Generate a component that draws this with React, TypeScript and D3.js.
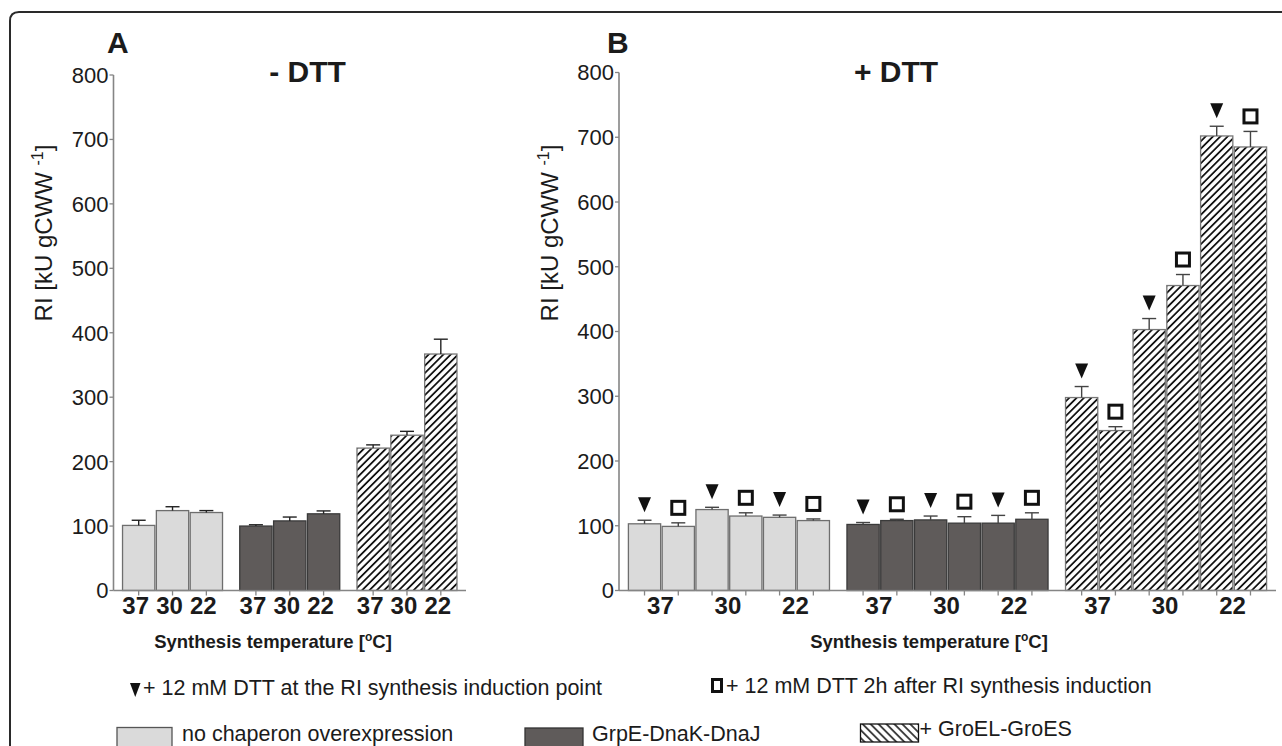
import React from 'react';
import * as d3 from 'd3';

// ---- DATA ----
const temps = ['37', '30', '22'];
const dttMarkers = ['tri', 'sq']; // + DTT at induction point, + DTT 2h after induction
const yTicks = [0, 100, 200, 300, 400, 500, 600, 700, 800];

// panel A: - DTT (one bar per temperature)
const noChapA = [101, 124, 121];
const noChapAErr = [8, 6, 3];
const grpeA = [100, 108, 119];
const grpeAErr = [2, 6, 4.5];
const groelA = [221, 241, 367];
const groelAErr = [5, 6, 23];

// panel B: + DTT (per temperature: at induction, 2h after)
const noChapB = [103, 99, 125, 115, 113, 108];
const noChapBErr = [5.5, 5.5, 3.5, 5, 3.5, 2.5];
const grpeB = [102, 108, 109, 104, 104, 110];
const grpeBErr = [3, 2, 6, 10, 12, 10];
const groelB = [298, 247, 403, 471, 702, 685];
const groelBErr = [17, 6, 17, 17, 15, 24];

// ---- STYLE ----
const FONT = 'Liberation Sans, Arial, Helvetica, sans-serif';
const INK = '#1b1b1b';
const AXIS = '#858585';
const styles = [
  { fill: '#dadada', stroke: '#6e6e6e' },
  { fill: '#5f5b5a', stroke: '#3a3a3a' },
  { fill: 'url(#hatchBar)', stroke: '#777' },
];

type PanelProps = {
  x0: number; x1: number; yTop: number; yBottom: number;
  values: number[][]; errs: number[][];
  padIn: number; padOut: number;
  labelSpan: number; labelDx: number;
  markers: boolean; errColor: string;
  letter: string; letterX: number; title: string; titleX: number; xTitleX: number;
};

function Panel(p: PanelProps) {
  const y = d3.scaleLinear().domain([0, 800]).range([p.yBottom, p.yTop]);
  const nPer = p.values[0].length;
  const gx = d3.scaleBand<number>().domain(d3.range(p.values.length)).range([p.x0, p.x1])
    .paddingInner(p.padIn).paddingOuter(p.padOut);
  const bx = d3.scaleBand<number>().domain(d3.range(nPer)).range([0, gx.bandwidth()]).paddingInner(0.045);
  const bw = bx.bandwidth();
  const cap = 7;

  const bars: any[] = [];
  const ticks: number[] = [];
  const labels: any[] = [];
  p.values.forEach((vals, g) => {
    vals.forEach((v, i) => {
      const left = (gx(g) as number) + (bx(i) as number);
      const cx = left + bw / 2;
      const top = y(v + p.errs[g][i]);
      ticks.push(cx);
      bars.push(
        <g key={`b${g}-${i}`}>
          <rect x={left} y={y(v)} width={bw} height={y(0) - y(v)} fill={styles[g].fill}
            stroke={styles[g].stroke} strokeWidth={1.3} />
          <line x1={cx} x2={cx} y1={y(v)} y2={top} stroke={p.errColor} strokeWidth={1.4} />
          <line x1={cx - cap} x2={cx + cap} y1={top} y2={top} stroke={p.errColor} strokeWidth={1.4} />
          {p.markers && dttMarkers[i % 2] === 'tri' && (
            <path d={`M${cx - 6.5},${top - 23} L${cx + 6.5},${top - 23} L${cx},${top - 8} Z`} fill="#111" />
          )}
          {p.markers && dttMarkers[i % 2] === 'sq' && (
            <rect x={cx - 6.5} y={top - 21.5} width={13} height={13} fill="#fff" stroke="#111" strokeWidth={3} />
          )}
        </g>
      );
    });
    for (let k = 0; k < nPer / p.labelSpan; k++) {
      const a = (gx(g) as number) + (bx(k * p.labelSpan) as number);
      const b = (gx(g) as number) + (bx(k * p.labelSpan + p.labelSpan - 1) as number) + bw;
      labels.push(
        <text key={`l${g}-${k}`} x={(a + b) / 2 + p.labelDx} y={614} textAnchor="middle"
          fontSize={24} fontWeight="bold" fill={INK}>{temps[k]}</text>
      );
    }
  });

  return (
    <g fontFamily={FONT}>
      <text x={p.letterX} y={53} fontSize={30} fontWeight="bold" fill={INK}>{p.letter}</text>
      <text x={p.titleX} y={82} fontSize={30} fontWeight="bold" fill={INK} textAnchor="middle">{p.title}</text>
      {bars}
      {/* axes */}
      <line x1={p.x0} x2={p.x0} y1={p.yTop} y2={p.yBottom} stroke={AXIS} strokeWidth={1.6} />
      <line x1={p.x0} x2={p.x1} y1={p.yBottom} y2={p.yBottom} stroke={AXIS} strokeWidth={1.6} />
      {yTicks.map(t => (
        <g key={t}>
          <line x1={p.x0 - 4} x2={p.x0} y1={y(t)} y2={y(t)} stroke={AXIS} strokeWidth={1.3} />
          <text x={p.x0 - 5} y={y(t)} dy="0.36em" textAnchor="end" fontSize={22} fill={INK}>{t}</text>
        </g>
      ))}
      {ticks.map((cx, i) => (
        <line key={i} x1={cx} x2={cx} y1={p.yBottom} y2={p.yBottom + 5} stroke={AXIS} strokeWidth={1.3} />
      ))}
      {labels}
      <text transform={`translate(${p.x0 - 61.5},233) rotate(-90)`} textAnchor="middle" fontSize={24} fill={INK}>
        RI [kU gCWW{' '}<tspan fontSize={16} dy={-9}>-1</tspan><tspan dy={9}>]</tspan>
      </text>
      <text x={p.xTitleX} y={647.5} textAnchor="middle" fontSize={18.5} fontWeight="bold" fill={INK}>
        Synthesis temperature [<tspan fontSize={12} dy={-7}>o</tspan><tspan dy={7}>C]</tspan>
      </text>
    </g>
  );
}

export default function App() {
  return (
    <div>
      <style>{'body{margin:0;overflow:hidden;background:#fff}'}</style>
      <svg width={1282} height={746} style={{ display: 'block' }}>
        <defs>
          <pattern id="hatchBar" patternUnits="userSpaceOnUse" width={5.2} height={10} patternTransform="rotate(45)">
            <rect width={5.2} height={10} fill="#fff" />
            <line x1={2.6} x2={2.6} y1={0} y2={10} stroke="#111" strokeWidth={1.8} />
          </pattern>
          <pattern id="hatchLegend" patternUnits="userSpaceOnUse" width={5.6} height={10} patternTransform="rotate(-45)">
            <rect width={5.6} height={10} fill="#fff" />
            <line x1={2.8} x2={2.8} y1={0} y2={10} stroke="#111" strokeWidth={1.5} />
          </pattern>
        </defs>
        <rect width={1282} height={746} fill="#fff" />
        <path d="M10,746 V21 Q10,12 19,12 H1282" fill="none" stroke="#2a2a2a" strokeWidth={2} />

        <Panel x0={113.5} x1={466} yTop={75} yBottom={590.5}
          values={[noChapA, grpeA, groelA]} errs={[noChapAErr, grpeAErr, groelAErr]}
          padIn={0.147} padOut={0.077} labelSpan={1} labelDx={-3}
          markers={false} errColor="#222"
          letter="A" letterX={107} title="- DTT" titleX={307.5} xTitleX={273} />
        <Panel x0={619} x1={1276} yTop={72.5} yBottom={590.5}
          values={[noChapB, grpeB, groelB]} errs={[noChapBErr, grpeBErr, groelBErr]}
          padIn={0.08} padOut={0.043} labelSpan={2} labelDx={-1}
          markers={true} errColor="#444"
          letter="B" letterX={607} title="+ DTT" titleX={896} xTitleX={929} />

        {/* legend */}
        <g fontFamily={FONT} fontSize={21.5} fill={INK}>
          <path d="M130,683 L140.5,683 L135.25,697 Z" fill="#111" />
          <text x={143} y={695}>+ 12 mM DTT at the RI synthesis induction point</text>
          <rect x={712.5} y={679.5} width={9} height={12} fill="#fff" stroke="#111" strokeWidth={3} />
          <text x={726} y={693}>+ 12 mM DTT 2h after RI synthesis induction</text>

          <rect x={117} y={727.5} width={55} height={30} fill={styles[0].fill} stroke="#555" strokeWidth={1.3} />
          <text x={182} y={741}>no chaperon overexpression</text>
          <rect x={525} y={728} width={58} height={30} fill={styles[1].fill} stroke="#333" strokeWidth={1.3} />
          <text x={592} y={741}>GrpE-DnaK-DnaJ</text>
          <rect x={860.5} y={724} width={58} height={18} fill="url(#hatchLegend)" stroke="#111" strokeWidth={1.3} />
          <text x={919.5} y={736}>+ GroEL-GroES</text>
        </g>
      </svg>
    </div>
  );
}
